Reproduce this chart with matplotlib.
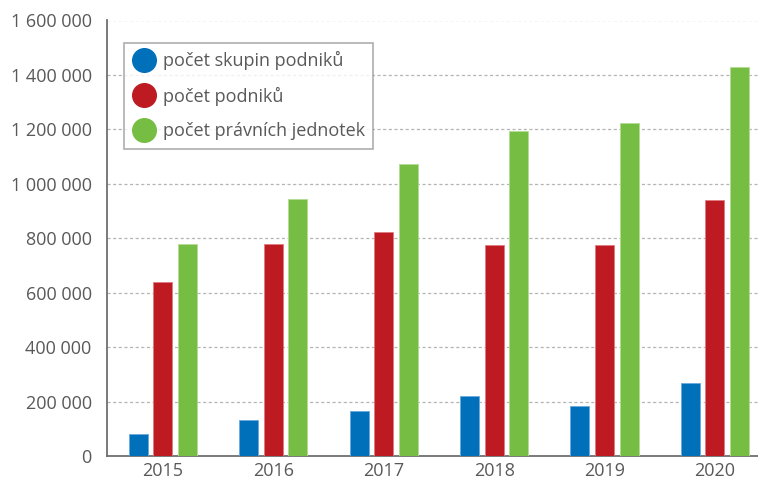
import matplotlib
matplotlib.use("Agg")
import matplotlib.pyplot as plt
from matplotlib.lines import Line2D
from matplotlib.ticker import FuncFormatter
import numpy as np

years = ["2015", "2016", "2017", "2018", "2019", "2020"]
skupiny = [81000, 132000, 166000, 222000, 185000, 270000]
podniky = [640000, 779000, 822000, 777000, 777000, 941000]
jednotky = [778000, 943000, 1073000, 1195000, 1223000, 1430000]
labels = ["počet skupin podniků", "počet podniků", "počet právních jednotek"]
colors = ["#0070BA", "#BE1A22", "#76BE43"]
edges = ["#6aa9dc", "#e07c80", "#b3dc94"]

plt.rcParams['font.family'] = ['Open Sans', 'DejaVu Sans']

fig = plt.figure(figsize=(7.58, 4.83), dpi=100)
ax = fig.add_axes([107/758, 27/483, 1 - 107/758, (456 - 20.5)/483])

x = np.arange(len(years))
w = 0.172
off = 0.222
for i, (vals, c, ec) in enumerate(zip([skupiny, podniky, jednotky], colors, edges)):
    ax.bar(x + (i - 1) * off, vals, width=w, color=c, edgecolor=ec, linewidth=0.6, zorder=3)

ax.set_ylim(0, 1600000)
ax.set_xlim(-0.505, 5.39)
ax.set_yticks(np.arange(0, 1600001, 200000))
ax.yaxis.set_major_formatter(FuncFormatter(lambda v, p: f"{int(v):,}".replace(",", " ")))
ax.set_xticks(x)
ax.set_xticklabels(years)
ax.tick_params(axis='both', length=0, labelsize=13, colors="#595959")
ax.tick_params(axis='y', pad=11)
ax.tick_params(axis='x', pad=4.5)
ax.grid(axis='y', color="#b5b5b5", linestyle=(0, (2.5, 2)), linewidth=0.9, zorder=0)
for s in ["top", "right"]:
    ax.spines[s].set_visible(False)
for s in ["left", "bottom"]:
    ax.spines[s].set_color("#6f6f6f")
    ax.spines[s].set_linewidth(1.3)

handles = [Line2D([], [], marker='o', linestyle='none', markersize=17,
                  markerfacecolor=c, markeredgecolor=c) for c in colors]
leg = fig.legend(handles, labels, loc='upper left', bbox_to_anchor=(124/758, 1 - 43/483),
                 fontsize=13, frameon=True, fancybox=False, edgecolor="#999999",
                 labelcolor="#595959", handletextpad=0.4, labelspacing=0.92,
                 borderpad=0.45, handlelength=1.3, borderaxespad=0)
leg.get_frame().set_linewidth(1.2)

fig.savefig("out.png", dpi=100)
